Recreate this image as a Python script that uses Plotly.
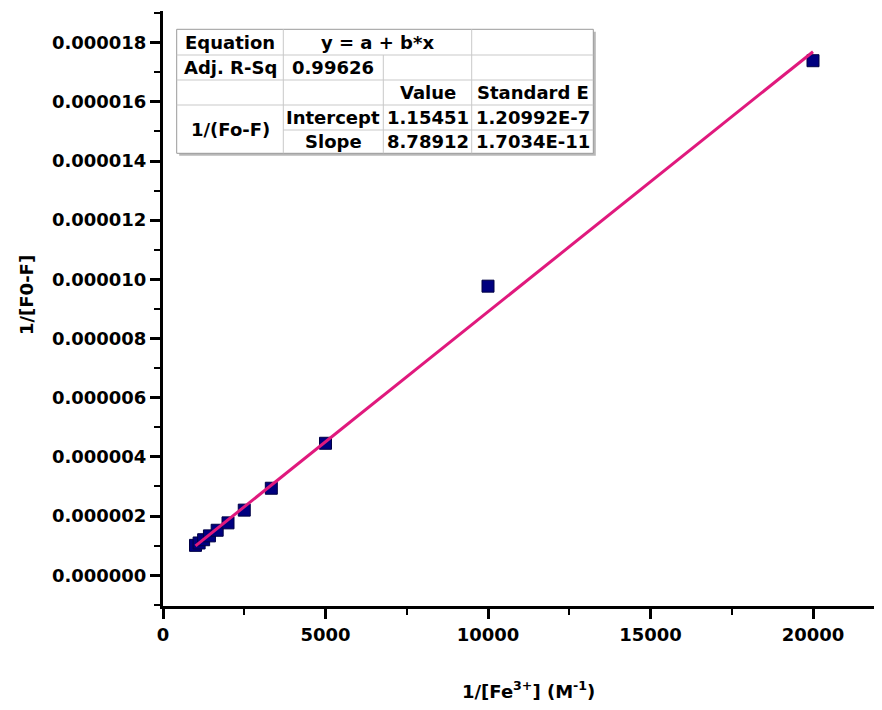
import plotly.graph_objects as go

# ---- data ----
inv_fe = [1000, 1111, 1250, 1429, 1667, 2000, 2500, 3333, 5000, 10000, 20000]
inv_f0_f = [1.01e-6, 1.09e-6, 1.20e-6, 1.33e-6, 1.52e-6, 1.77e-6, 2.20e-6,
            2.94e-6, 4.46e-6, 9.77e-6, 17.39e-6]
fit_intercept = 1.15451e-7
fit_slope = 8.78912e-10
fit_x = [1000, 20000]

y_ticks = [0, 2e-6, 4e-6, 6e-6, 8e-6, 10e-6, 12e-6, 14e-6, 16e-6, 18e-6]
x_ticks = [0, 5000, 10000, 15000, 20000]
x_tick_labels = ["0", "5000", "10000", "15000", "20000"]

# table texts
eq_label = "Equation"
eq_text = "y = a + b*x"
r2_label = "Adj. R-Sq"
r2_value = "0.99626"
head_value = "Value"
head_err = "Standard E"
group_label = "1/(Fo-F)"
param_names = ["Intercept", "Slope"]
param_values = ["1.15451", "8.78912"]
param_errors = ["1.20992E-7", "1.7034E-11"]

x_title = "1/[Fe<sup>3+</sup>] (M<sup>-1</sup>)"
y_title = "1/[F0-F]"

# ---- geometry (page pixels) ----
W, H = 882, 710
OFF = 8            # default body margin of the html page
L, R, T, B = 163, 882, 11, 606
FONT = "DejaVu Sans"


def px(x):
    return (x - L) / (R - L)


def py(y):
    return (B - y) / (B - T)


fit_y = [fit_intercept + fit_slope * v for v in fit_x]

fig = go.Figure()
fig.add_trace(go.Scatter(
    x=inv_fe, y=inv_f0_f, mode="markers",
    marker=dict(symbol="square", size=12, color="#00007F",
                line=dict(width=1, color="#000045")),
    showlegend=False, hoverinfo="skip"))
fig.add_trace(go.Scatter(
    x=fit_x, y=fit_y, mode="lines",
    line=dict(color="#E0197D", width=3),
    showlegend=False, hoverinfo="skip"))

axis_common = dict(
    showline=True, linewidth=3, linecolor="black", mirror=False,
    showgrid=False, zeroline=False,
    ticks="outside", ticklen=10, tickwidth=2.5, tickcolor="black",
    tickfont=dict(family=FONT, size=18, color="black", weight="bold"),
)

fig.update_xaxes(range=[0, 22123], tickmode="array", tickvals=x_ticks,
                 ticktext=x_tick_labels,
                 minor=dict(ticks="outside", ticklen=6, tickwidth=2,
                            tickcolor="black", dtick=2500, tick0=0,
                            showgrid=False),
                 **axis_common)
fig.update_yaxes(range=[-1.04e-6, 19.07e-6], tickmode="array", tickvals=y_ticks,
                 tickformat=".6f",
                 minor=dict(ticks="outside", ticklen=6, tickwidth=2,
                            tickcolor="black", dtick=1e-6, tick0=0,
                            showgrid=False),
                 **axis_common)

# ---- results table drawn with shapes + annotations ----
cx = [176.7, 283.3, 383.3, 471.7, 593.3]
ry = [29.3, 55, 80, 105, 130, 153.3]
shapes = []
shapes.append(dict(type="rect", xref="paper", yref="paper",
                   x0=px(cx[0] + 2.5), x1=px(cx[4] + 2.5),
                   y0=py(ry[5] + 2.5), y1=py(ry[0] + 2.5),
                   fillcolor="#b8b8b8", line=dict(width=0), layer="above"))
shapes.append(dict(type="rect", xref="paper", yref="paper",
                   x0=px(cx[0]), x1=px(cx[4]), y0=py(ry[5]), y1=py(ry[0]),
                   fillcolor="white", line=dict(width=1, color="#9a9a9a"),
                   layer="above"))
grid_col = "#c9c9c9"


def vline(x, y0, y1):
    shapes.append(dict(type="line", xref="paper", yref="paper",
                       x0=px(x), x1=px(x), y0=py(y0), y1=py(y1),
                       line=dict(width=1, color=grid_col), layer="above"))


def hline(y, x0, x1):
    shapes.append(dict(type="line", xref="paper", yref="paper",
                       x0=px(x0), x1=px(x1), y0=py(y), y1=py(y),
                       line=dict(width=1, color=grid_col), layer="above"))


vline(cx[1], ry[0], ry[5])
vline(cx[2], ry[1], ry[5])
vline(cx[3], ry[0], ry[5])
hline(ry[1], cx[0], cx[4])
hline(ry[2], cx[0], cx[4])
hline(ry[3], cx[0], cx[4])
hline(ry[4], cx[1], cx[4])

annotations = []


def cell(text, c0, c1, r0, r1):
    annotations.append(dict(
        text=text, xref="paper", yref="paper",
        x=px((cx[c0] + cx[c1]) / 2), y=py((ry[r0] + ry[r1]) / 2),
        xanchor="center", yanchor="middle", showarrow=False,
        font=dict(family=FONT, size=18, color="black", weight="bold")))


cell(eq_label, 0, 1, 0, 1)
cell(eq_text, 1, 3, 0, 1)
cell(r2_label, 0, 1, 1, 2)
cell(r2_value, 1, 2, 1, 2)
cell(head_value, 2, 3, 2, 3)
cell(head_err, 3, 4, 2, 3)
cell(group_label, 0, 1, 3, 5)
for i in range(2):
    cell(param_names[i], 1, 2, 3 + i, 4 + i)
    cell(param_values[i], 2, 3, 3 + i, 4 + i)
    cell(param_errors[i], 3, 4, 3 + i, 4 + i)

# axis titles
annotations.append(dict(
    text=x_title, xref="paper", yref="paper", x=px(528), y=py(690),
    xanchor="center", yanchor="middle", showarrow=False,
    font=dict(family=FONT, size=18, color="black", weight="bold")))
annotations.append(dict(
    text=y_title, xref="paper", yref="paper", x=px(26), y=py(295),
    xanchor="center", yanchor="middle", showarrow=False, textangle=-90,
    font=dict(family=FONT, size=18, color="black", weight="bold")))

fig.update_layout(
    width=W - OFF, height=H - OFF,
    margin=dict(l=L - OFF, r=W - R, t=T - OFF, b=H - B, pad=0),
    paper_bgcolor="white", plot_bgcolor="white",
    shapes=shapes, annotations=annotations,
    showlegend=False,
)

fig.write_html("out.html")
